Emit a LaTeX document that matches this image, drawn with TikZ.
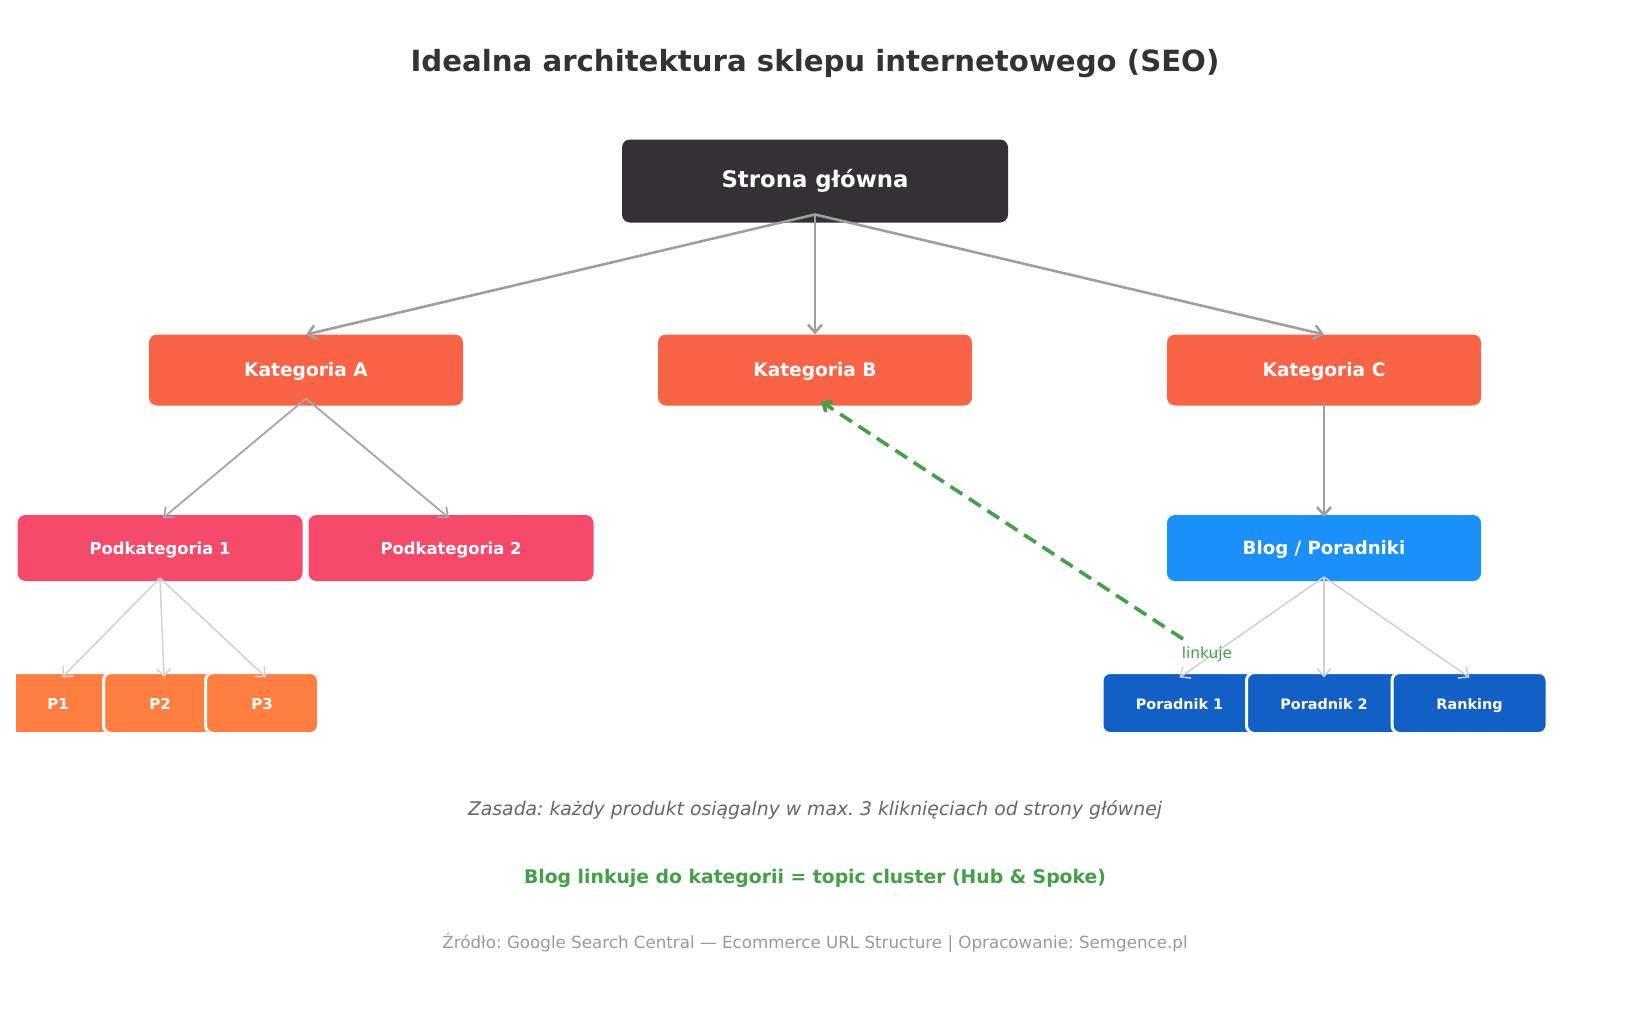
\documentclass[tikz,border=0pt]{standalone}
\usepackage{fontspec}
\setmainfont{DejaVu Sans}
\usetikzlibrary{arrows.meta}
\frenchspacing

\definecolor{homecol}{HTML}{333134}
\definecolor{katcol}{HTML}{F96446}
\definecolor{podcol}{HTML}{F64A6A}
\definecolor{blogcol}{HTML}{1A90F8}
\definecolor{prodcol}{HTML}{FF7F40}
\definecolor{porcol}{HTML}{1260C6}
\definecolor{linkcol}{HTML}{43A047}
\definecolor{titlecol}{HTML}{333333}

\newcommand{\fs}[1]{\fontsize{#1}{1.2\dimexpr#1pt\relax}\selectfont}

\begin{document}
\begin{tikzpicture}[x=0.5pt, y=-0.5pt,
    box/.style={rounded corners=4pt, inner sep=0pt, outer sep=0pt, text=white, font=\bfseries, text height=0.84em, text depth=0.16em},
    main/.style={->, >={Straight Barb[length=4pt, width=7pt]}, draw=gray!75, line width=1.3pt},
    sub/.style={->, >={Straight Barb[length=4pt, width=7pt]}, draw=gray!70, line width=0.9pt},
    leaf/.style={->, >={Straight Barb[length=4pt, width=7pt]}, draw=black!18, line width=0.75pt}]
    \useasboundingbox[fill=white] (0, 0) rectangle (1630, 1030);

    % Title
    \node[text=titlecol, font=\bfseries\fs{14.6}] (title) at (815, 64) {Idealna architektura sklepu internetowego (SEO)};

    % Home and categories
    \node[box, fill=homecol, minimum width=193pt, minimum height=41.5pt, font=\bfseries\fs{11.4}] (home) at (815, 181) {Strona główna};
    \node[box, fill=katcol, minimum width=157pt, minimum height=35.5pt, font=\bfseries\fs{9.3}] (katA) at (306, 370) {Kategoria A};
    \node[box, fill=katcol, minimum width=157pt, minimum height=35.5pt, font=\bfseries\fs{9.3}] (katB) at (815, 370) {Kategoria B};
    \node[box, fill=katcol, minimum width=157pt, minimum height=35.5pt, font=\bfseries\fs{9.3}] (katC) at (1324, 370) {Kategoria C};

    % Second level
    \node[box, fill=podcol, minimum width=142.5pt, minimum height=33pt, font=\bfseries\fs{8.2}] (pod1) at (160, 548) {Podkategoria 1};
    \node[box, fill=podcol, minimum width=142.5pt, minimum height=33pt, font=\bfseries\fs{8.2}] (pod2) at (451, 548) {Podkategoria 2};
    \node[box, fill=blogcol, minimum width=157pt, minimum height=33pt, font=\bfseries\fs{9.1}] (blog) at (1324, 548) {Blog / Poradniki};

    % Products
    \begin{scope}
        \clip (16, 0) rectangle (1630, 1030);
        \foreach \i/\x in {1/58, 2/160, 3/262} {
            \node[box, fill=prodcol, draw=white, line width=1.5pt, minimum width=56.5pt, minimum height=30.5pt, font=\bfseries\fs{7.5}] (p\i) at (\x, 703) {P\i};
        }
    \end{scope}

    % Guides
    \foreach \n/\x/\t in {por1/1179.5/Poradnik 1, por2/1324/Poradnik 2, rank/1469.5/Ranking} {
        \node[box, fill=porcol, draw=white, line width=1.5pt, minimum width=77.5pt, minimum height=30.5pt, font=\bfseries\fs{7.2}] (\n) at (\x, 703) {\t};
    }

    % Links from home
    \draw[main] ([yshift=4pt]home.south) -- (katA.north);
    \draw[main] ([yshift=4pt]home.south) -- (katB.north);
    \draw[main] ([yshift=4pt]home.south) -- (katC.north);
    \draw[main] ([yshift=2pt]katC.south) -- ([yshift=-1pt]blog.north);

    % Links to subcategories
    \draw[sub] ([yshift=3.5pt]katA.south) -- ([xshift=1.5pt, yshift=-1.5pt]pod1.north);
    \draw[sub] ([yshift=3.5pt]katA.south) -- ([xshift=-1pt, yshift=-1.5pt]pod2.north);

    % Links to products and guides
    \foreach \i in {1, 2, 3} {
        \draw[leaf] ([yshift=1.5pt]pod1.south) -- ([xshift=2pt, yshift=-2.5pt]p\i.north);
    }
    \foreach \n in {por1, por2, rank} {
        \draw[leaf] ([yshift=2pt]blog.south) -- ([yshift=-2.5pt]\n.north);
    }

    % Blog links back to category
    \coordinate (lnk) at (1183, 639);
    \draw[->, >={Straight Barb[length=3.5pt, width=6pt]}, linkcol, line width=1.8pt, dash pattern=on 7pt off 4pt] (lnk) -- ([xshift=3pt, yshift=2pt]katB.south);
    \node[text=linkcol, font=\fs{7.7}] (lnklabel) at (1207, 654) {linkuje};

    % Notes
    \node[text=black!60, font=\itshape\fs{9.4}] (rule) at (815, 810) {Zasada: każdy produkt osiągalny w max. 3 kliknięciach od strony głównej};
    \node[text=linkcol, font=\bfseries\fs{9.4}] (hub) at (815, 878) {Blog linkuje do kategorii = topic cluster (Hub \& Spoke)};
    \node[text=black!40, font=\fs{8.35}] (src) at (815, 943) {Źródło: Google Search Central — Ecommerce URL Structure | Opracowanie: Semgence.pl};
\end{tikzpicture}
\end{document}
